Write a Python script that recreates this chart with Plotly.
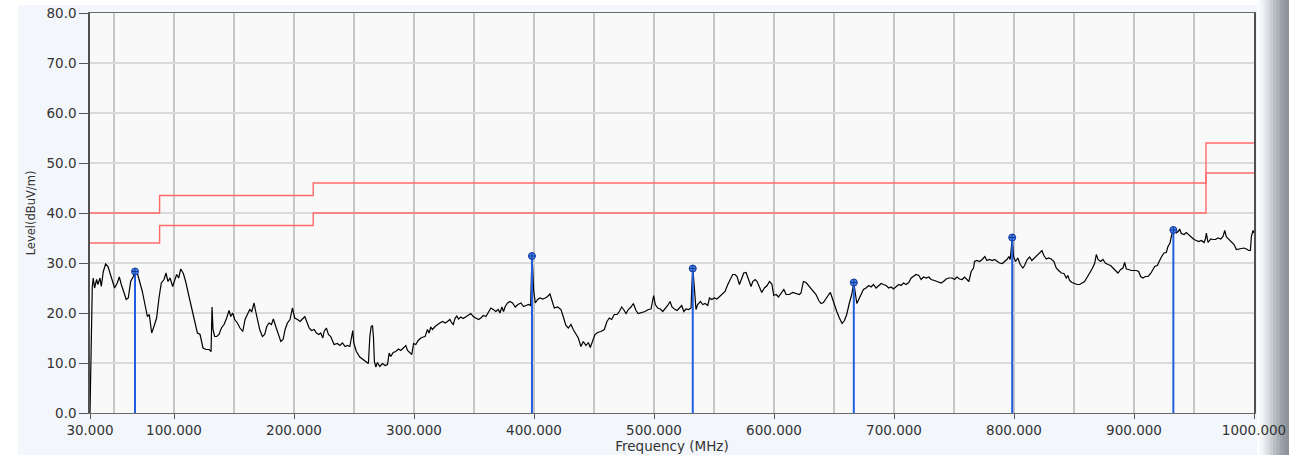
import plotly.graph_objects as go

# ---------------- data ----------------
freq_mhz = [
    30, 30.3, 30.8, 31.2, 31.9, 32.7, 33.8, 35.5, 36.6, 38.3,
    39.4, 41.1, 43.0, 45.0, 47.2, 48.8, 50.5, 52.7, 54.4, 56.1,
    58.3, 60.2, 61.9, 63.9, 66.1, 67.5, 69.4, 71.6, 73.6, 75.8,
    77.8, 79.4, 81.4, 83.3, 85.5, 87.5, 89.4, 91.7, 93.3, 95.0,
    96.7, 98.9, 100.6, 102.2, 103.9, 105.6, 107.8, 109.7, 112.5, 115.3,
    117.5, 119.5, 121.7, 124.2, 126.7, 129.2, 130.9, 131.7, 132.5, 133.9,
    135.6, 137.5, 139.5, 141.7, 143.9, 145.9, 147.3, 148.9, 150.6, 152.8,
    155.0, 157.3, 159.2, 161.2, 163.1, 164.8, 166.7, 168.1, 169.5, 171.4,
    173.7, 175.6, 177.3, 179.2, 181.2, 182.8, 184.8, 186.7, 189.0, 190.9,
    192.6, 194.5, 196.7, 198.7, 200.6, 202.9, 205.1, 207.0, 209.0, 210.6,
    212.6, 214.5, 216.8, 218.7, 220.7, 222.3, 224.0,
    225.1, 227.0, 228.7, 230.6, 233.4, 236.2, 238.1, 240.4, 242.6, 244.5,
    246.5, 248.1, 249.0, 249.8, 252.0, 254.8, 257.6, 259.8, 262.0, 263.2,
    264.3, 265.4, 266.2, 267.0, 268.2, 269.5, 271.5, 273.7, 275.9, 277.9,
    279.3, 280.7, 282.6, 284.8, 287.1, 289.0, 291.0, 293.2, 294.6, 296.0,
    298.2, 299.6, 301.5, 303.5, 305.7, 307.6, 309.3, 311.2, 312.6, 314.0,
    315.4, 317.6, 319.6, 321.5, 323.8, 326.0, 327.9, 329.9, 331.5, 332.7,
    334.3, 335.7, 337.1, 339.0, 341.0, 343.2, 345.4, 347.4, 349.3, 351.6,
    353.8, 355.7, 357.7, 359.9, 362.1, 364.1, 366.0, 368.2, 370.2, 371.6,
    373.2, 374.6, 376.0, 378.0, 379.9, 382.1, 384.4, 386.6, 389.1, 391.3,
    393.3, 395.5, 397.2, 397.7, 398.3, 398.8, 399.7, 401.1, 403.0, 405.0,
    407.2, 409.4, 411.3, 413.3, 414.9,
    416.9, 419.7, 422.5, 424.7, 426.6, 428.6, 430.8, 432.7, 435.0, 436.9,
    439.1, 441.1, 443.3, 445.3, 446.9, 448.9, 450.8, 453.0, 455.8, 458.6,
    460.8, 462.8, 464.7, 466.9, 469.2, 471.1, 473.1, 474.7, 476.7, 478.6,
    480.8, 482.8, 485.0, 486.9, 489.7, 492.5, 495.3, 497.5, 499.7, 501.1,
    503.1, 505.3, 507.3, 509.2, 511.4, 513.4, 515.0, 517.0, 519.2, 521.2,
    523.1, 524.8, 526.7, 528.9, 530.9, 531.4, 532.3, 533.1, 534.2, 535.0,
    536.4, 538.7, 540.6, 542.6, 544.8, 546.2, 548.1, 550.3, 552.5, 554.5,
    557.3, 559.2, 561.5, 563.7, 565.6, 567.6, 569.2, 571.2, 573.1, 574.8,
    576.7, 578.7, 580.9, 582.3, 584.3, 585.9, 587.9, 589.8, 592.0, 594.3,
    596.2, 598.2, 599.8, 601.8, 603.7, 605.9, 608.2, 610.1,
    612.8, 615.6, 618.4, 621.1, 622.5, 624.5, 626.7, 628.9, 630.9, 632.8,
    635.0, 637.3, 639.2, 641.2, 643.4, 645.6, 647.0, 648.4, 650.3, 652.3,
    654.5, 656.7, 658.7, 660.6, 662.8, 664.8, 666.5, 667.6, 669.0, 670.6,
    672.6, 674.5, 676.7, 679.0, 680.9, 682.9, 685.1, 687.3, 689.3, 691.2,
    693.4, 695.6, 697.6, 699.5, 701.8, 704.0, 705.9, 707.9, 710.1, 712.3,
    714.3, 716.2, 718.4, 720.7, 722.6, 724.6, 726.8, 729.0, 730.9, 733.7,
    736.5, 739.3, 741.2, 743.5, 745.7, 748.5, 750.4, 752.4, 754.6, 756.8,
    758.8, 760.7, 762.4, 764.3, 766.3, 767.1, 769.0, 771.3, 773.5, 775.7,
    777.4, 779.6, 781.8, 783.8, 785.7, 787.9, 790.2, 792.1, 794.1, 795.7,
    796.8, 797.7, 798.5, 799.6, 801.3, 803.2, 805.2, 807.4,
    808.8, 811.0, 813.0, 814.9, 817.1, 819.4, 821.3, 823.3, 824.9, 826.9,
    828.8, 831.0, 833.3, 835.2, 837.2, 839.4, 841.6, 843.6, 844.9, 846.3,
    848.3, 850.5, 852.7, 854.7, 856.6, 858.8, 861.1, 863.0, 865.0, 867.2,
    868.6, 870.0, 872.2, 874.1, 876.1, 878.3, 880.5, 882.5, 884.4, 886.6,
    888.9, 890.8, 892.2, 893.6, 895.5, 897.8, 900.0, 901.9, 903.9, 905.5,
    907.5, 909.4, 911.7, 913.9, 915.8, 917.2, 919.4, 920.8, 922.8, 925.0,
    926.9, 928.3, 930.0, 931.1, 932.5, 933.9, 935.3, 936.7, 938.1, 939.5,
    941.7, 943.6, 945.6, 947.8, 950.0, 952.0, 953.9, 956.1, 958.4, 959.5,
    960.3, 961.7, 964.0, 965.9, 967.9, 970.0, 972.3, 974.2, 975.6, 977.0,
    979.0, 981.2, 983.4, 985.3, 987.3, 989.5, 991.7, 993.7, 995.6, 997.0,
    997.8, 999.2, 1000,
]
level_dbuv = [
    0, 5, 5.3, 19.7, 25.3, 27, 25, 26.7, 25.7, 27,
    25.3, 28.3, 29.8, 29.3, 27.7, 26.7, 25, 26, 27.2, 25.7,
    24, 22.7, 23, 26.3, 27.3, 28.3, 28, 26.3, 24.3, 21.7,
    19.3, 19.7, 16, 17.3, 19, 23, 26, 26.7, 28, 26.3,
    27, 25.3, 26.7, 27.7, 27, 28.8, 27.9, 26.3, 23.3, 20.3,
    18, 16, 15.7, 13, 12.7, 12.7, 12.3, 21.2, 16.7, 15.3,
    15.3, 15.7, 17, 17.7, 19, 20.5, 19.3, 20, 18.7, 18,
    17, 16.3, 18.7, 19.7, 20.7, 20.3, 22, 20.3, 18.7, 16.7,
    15.3, 15.7, 17.3, 18, 17.7, 18.8, 17.3, 15.7, 14.3, 14.7,
    16.7, 18, 18.7, 21, 19, 18.7, 18.3, 18.8, 19.3, 18.3,
    17, 16.5, 16.7, 16, 15.7, 16, 15,
    16.3, 17, 15.7, 15.3, 13.7, 13.9, 13.5, 14, 13.3, 13.5,
    13.3, 15, 16.5, 14, 12.3, 11.2, 10.7, 10.3, 9.9, 15.3,
    17.3, 17.5, 15.3, 10.3, 9.2, 10.1, 9.3, 9.9, 9.5, 9.7,
    12, 11.3, 12.1, 12.3, 12.8, 12.5, 13, 13.5, 12.5, 12.1,
    11.7, 13.9, 13.7, 14.5, 15, 15.2, 15.3, 16.7, 16, 17.2,
    16.7, 17.3, 17.7, 18, 18.3, 18, 18.3, 18.7, 18, 17.7,
    19, 19.4, 18.8, 19.2, 18.9, 19.3, 19.7, 19.9, 19.3, 18.9,
    18.7, 19, 19.5, 19.3, 20.3, 21, 20.7, 20.3, 20.7, 20,
    21.2, 20.3, 21.3, 22, 22.3, 22, 21.2, 21.7, 22, 21.3,
    21.5, 21.7, 21.5, 26.4, 31.3, 29, 24.5, 22, 22.7, 23,
    22.8, 23, 23.3, 23.8, 22.4,
    21, 21.2, 20.7, 19, 17.5, 17, 17.7, 16.7, 15.7, 15,
    13.3, 14.3, 13.5, 14.1, 13.1, 14.3, 15.7, 16.1, 16.3, 16.7,
    18.3, 19, 18.7, 19.7, 19.7, 20.3, 21.2, 20.7, 19.9, 20.7,
    21.2, 21.9, 20.5, 19.9, 20.1, 20.3, 20.7, 20.8, 23.5, 21.7,
    21, 20.8, 20.3, 20.8, 21.5, 22.3, 21.2, 20.8, 20.5, 21,
    21.5, 20.3, 20.8, 20.7, 21, 24.7, 28.8, 26.7, 22.3, 20.7,
    21.7, 22.3, 21.7, 21.9, 21.5, 23, 22.7, 23, 22.8, 23.3,
    24, 24.3, 25.7, 26.8, 27.7, 27.7, 27.3, 25.7, 27, 28,
    28.1, 26.7, 25.3, 26.3, 26.7, 26.3, 25.3, 24.1, 25, 25.5,
    26.3, 25.8, 23.5, 23.7, 23.2, 24, 24.7, 23.7,
    23.7, 24.1, 23.9, 23.7, 24, 26.3, 26.1, 25.5, 24.8, 24.3,
    23.7, 22.5, 21.9, 22.1, 23, 23.7, 24.1, 23, 21.5, 20.3,
    19, 17.9, 18.5, 19.7, 22, 23.7, 26.1, 23.7, 21.9, 22.7,
    23.7, 24.7, 25, 25.5, 25.2, 25.7, 25, 25.5, 25.9, 25.7,
    25.5, 25, 25.2, 24.8, 25.2, 25.7, 25.5, 26, 25.7, 26.1,
    27, 27.3, 27.7, 27.5, 26.7, 27.2, 27, 27.2, 26.7, 26.5,
    26.3, 26, 26.3, 26.8, 27, 27, 26.7, 27.2, 26.8, 26.7,
    27.2, 26.7, 26.3, 28.3, 29, 30.3, 30.5, 30.3, 30.7, 31.3,
    30.5, 30.7, 30.5, 30.7, 30.3, 30, 29.9, 30.3, 30.7, 31.3,
    30.7, 32.8, 35.1, 31.3, 30.3, 31, 29.7, 29,
    29.5, 30.7, 31.2, 30.5, 31, 31.5, 31.9, 32.5, 31.5, 30.8,
    31, 30.8, 30.3, 29, 28.5, 28, 27.9, 27, 27.5, 26.5,
    26.1, 25.9, 25.7, 25.7, 26, 26.3, 27.2, 27.9, 28.8, 29.9,
    31.7, 30.7, 30.3, 30.7, 30, 29.7, 29.5, 29, 28.5, 28,
    28.7, 29, 30.1, 28.8, 28.7, 28.5, 28.5, 28.5, 28.3, 27.3,
    27, 27.3, 27.3, 27.9, 28.7, 29.3, 29.5, 30.3, 31.2, 32,
    32.1, 33.3, 34, 35.3, 36.5, 36.3, 36, 36.3, 36.7, 35.9,
    35.7, 36.1, 35.7, 35.2, 34.7, 34.5, 34.3, 34.5, 34.1, 34.8,
    36, 34.1, 34.8, 34.7, 34.7, 35, 34.8, 35.3, 36.5, 35.2,
    34.7, 34.3, 33.7, 32.7, 32.8, 32.8, 33, 32.8, 32.5, 32.5,
    35.3, 36.5, 36,
]
assert len(freq_mhz) == len(level_dbuv), (len(freq_mhz), len(level_dbuv))

# limit lines (step at given frequency)
limit_freq = [30, 88, 216, 960, 1000]
limit_upper = [40, 43.5, 46, 54, 54]
limit_lower = [34, 37.5, 40, 48, 48]

# peak markers
marker_freq = [67.5, 398.3, 532.3, 666.5, 798.5, 932.8]
marker_level = [28.3, 31.4, 28.9, 26.1, 35.1, 36.6]

x_tick_vals = [30, 100, 200, 300, 400, 500, 600, 700, 800, 900, 1000]
x_tick_text = ["30.000", "100.000", "200.000", "300.000", "400.000", "500.000",
               "600.000", "700.000", "800.000", "900.000", "1000.000"]
y_tick_vals = [0, 10, 20, 30, 40, 50, 60, 70, 80]
y_tick_text = ["0.0", "10.0", "20.0", "30.0", "40.0", "50.0", "60.0", "70.0", "80.0"]

# ---------------- figure ----------------
fig = go.Figure()

limit_color = "#ff6a6a"
fig.add_trace(go.Scatter(x=limit_freq, y=limit_upper, mode="lines", line_shape="hv",
                         line=dict(color=limit_color, width=1.4), hoverinfo="skip"))
fig.add_trace(go.Scatter(x=limit_freq, y=limit_lower, mode="lines", line_shape="hv",
                         line=dict(color=limit_color, width=1.4), hoverinfo="skip"))

fig.add_trace(go.Scatter(x=freq_mhz, y=level_dbuv, mode="lines",
                         line=dict(color="#000000", width=1.2)))

stem_x, stem_y = [], []
for f, l in zip(marker_freq, marker_level):
    stem_x += [f, f, None]
    stem_y += [0, l, None]
fig.add_trace(go.Scatter(x=stem_x, y=stem_y, mode="lines",
                         line=dict(color="#1f5fe0", width=2), hoverinfo="skip"))
fig.add_trace(go.Scatter(x=marker_freq, y=marker_level, mode="markers",
                         marker=dict(symbol="circle-cross", size=7, color="#3f82ec",
                                     line=dict(color="#173a9a", width=1))))

# page body margin is removed by the post script, so the figure sits at (0, 0)
W, H = 1289, 455
L_PX, R_PX, T_PX, B_PX = 90, 1254, 13, 413

def px_x(p):
    return (p - L_PX) / (R_PX - L_PX)
def px_y(p):
    return (B_PX - p) / (B_PX - T_PX)

shapes = []
# white window edges (left / top)
shapes.append(dict(type="rect", xref="paper", yref="paper", x0=px_x(0), x1=px_x(18),
                   y0=px_y(H), y1=px_y(0), fillcolor="#ffffff", line=dict(width=0), layer="below"))
shapes.append(dict(type="rect", xref="paper", yref="paper", x0=px_x(0), x1=px_x(W),
                   y0=px_y(5), y1=px_y(0), fillcolor="#ffffff", line=dict(width=0), layer="below"))
# grey gradient strip at right
grad = ["#fbfcfd", "#f2f4f6", "#e6e9ec", "#d8dbdf", "#c9cdd2", "#b9bec4",
        "#aab0b7", "#9da3ab", "#939aa2", "#8c939b"]
x_start = 1257
step = (W - x_start) / len(grad)
for i, c in enumerate(grad):
    shapes.append(dict(type="rect", xref="paper", yref="paper",
                       x0=px_x(x_start + i * step), x1=px_x(x_start + (i + 1) * step + 0.5),
                       y0=px_y(H), y1=px_y(0), fillcolor=c, line=dict(width=0), layer="below"))

tick_font = dict(family="DejaVu Sans", size=13.5, color="#333333")

fig.update_layout(
    width=W, height=H,
    margin=dict(l=L_PX, r=W - R_PX, t=T_PX, b=H - B_PX, autoexpand=False),
    paper_bgcolor="#f3f7fb",
    plot_bgcolor="#f9f9f9",
    showlegend=False,
    hovermode=False,
    shapes=shapes,
    xaxis=dict(
        range=[30, 1000], tickmode="array", tickvals=x_tick_vals, ticktext=x_tick_text,
        automargin=False, ticklabeloverflow="allow",
        showgrid=True, gridcolor="#c6c6c6", gridwidth=2,
        minor=dict(tick0=0, dtick=50, showgrid=True, gridcolor="#c6c6c6", gridwidth=2, ticks=""),
        ticks="outside", ticklen=5, tickcolor="#555555",
        showline=True, linecolor="#6a6a6a", linewidth=1, mirror=True,
        zeroline=False, tickfont=tick_font,
        title=dict(text="Frequency (MHz)", font=dict(family="DejaVu Sans", size=13.5, color="#333333"),
                   standoff=0),
    ),
    yaxis=dict(
        range=[0, 80], tickmode="array", tickvals=y_tick_vals, ticktext=y_tick_text,
        automargin=False, ticklabeloverflow="allow",
        showgrid=True, gridcolor="#dadada", gridwidth=2,
        ticks="outside", ticklen=9, tickcolor="#555555",
        showline=True, linecolor="#505050", linewidth=1.5, mirror=True,
        zeroline=False, tickfont=tick_font,
        title=dict(text="Level(dBuV/m)", font=dict(family="DejaVu Sans", size=11.5, color="#333333"),
                   standoff=8),
    ),
)

fig.write_html(
    "out.html",
    config={"displayModeBar": False},
    post_script="document.body.style.margin='0px';document.body.style.overflow='hidden';",
)
